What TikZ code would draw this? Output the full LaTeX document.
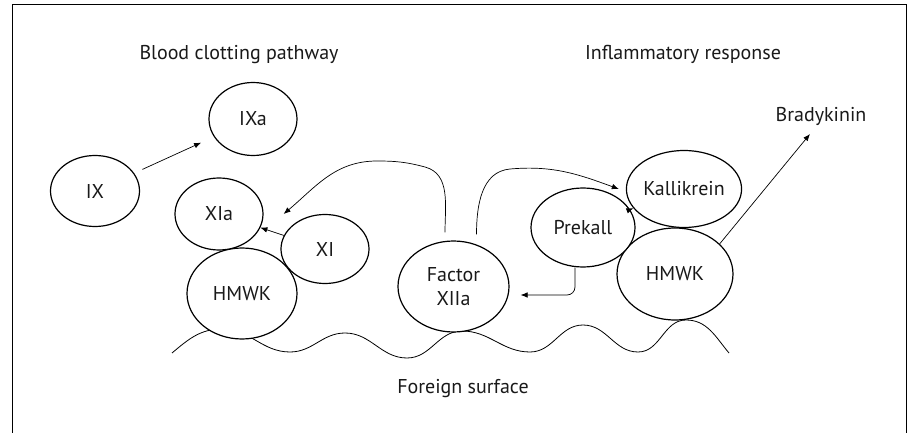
\documentclass[tikz,border=0pt]{standalone}
\usepackage{fontspec}
\setmainfont{PT Sans}
\usetikzlibrary{shapes.geometric,arrows.meta}
\begin{document}
\begin{tikzpicture}[x=1pt,y=-1pt,
        font=\fontsize{20}{23.3}\selectfont,
        blob/.style={ellipse,draw,fill=white,line width=1.2pt,inner sep=0pt,text=black!90},
        txt/.style={anchor=base,inner sep=2pt,text=black!90},
        arr/.style={-{Latex[length=7pt,width=5.5pt]},line width=0.7pt},
        surf/.style={line width=0.8pt}]
    \useasboundingbox (0,0) rectangle (908,433);
    \draw[line width=1pt] (12,433) |- (906,5) -- (906,433);
    \draw[surf] (172,353) to[out=40,in=180] (222,329) to[out=0,in=180] (290,352)
        to[out=0,in=180] (345,333) to[out=0,in=180] (407,358) to[out=0,in=180] (462,331)
        to[out=0,in=180] (530,352) to[out=0,in=180] (583,325) to[out=0,in=180] (638,352)
        to[out=0,in=180] (686,320) to[out=0,in=130] (729,353);
    \node (blood) [txt] at (239,60) {Blood clotting pathway};
    \node (inflam) [txt] at (683,60) {Inflammatory response};
    \node (brady) [txt] at (821,121.7) {Bradykinin};
    \node (surface) [txt] at (463,393.3) {Foreign surface};
    \node (IX) [blob,minimum width=89pt,minimum height=71pt] at (95,191) {IX};
    \node (IXa) [blob,minimum width=88pt,minimum height=73pt] at (253,119) {IXa};
    \node (hl) [blob,minimum width=110pt,minimum height=91pt] at (242,293.5) {HMWK};
    \node (XIa) [blob,minimum width=88pt,minimum height=72pt] at (219,214) {XIa};
    \node (XI) [blob,minimum width=88pt,minimum height=69pt] at (325,249) {XI};
    \node (fx) [blob,minimum width=111pt,minimum height=91pt,align=center] at (453.5,286.5) {Factor\\XIIa};
    \node (hr) [blob,minimum width=116pt,minimum height=92pt] at (675,274) {HMWK};
    \node (kk) [blob,minimum width=108pt,minimum height=77pt] at (684,189) {Kallikrein};
    \node (pk) [blob,minimum width=104pt,minimum height=79pt] at (583,227.5) {Prekall};
    \draw[arr,shorten <=9pt,shorten >=14pt] (IX) -- (IXa);
    \draw[arr] (XI) -- (XIa);
    \draw[arr] ([xshift=-8.5pt,yshift=8pt]fx.north) to[out=90,in=-15] (425,167)
        to[out=165,in=0] (377,161) to[out=180,in=40] ([xshift=20pt]XIa.east);
    \draw[arr] ([xshift=23pt,yshift=6pt]fx.north) to[out=90,in=185] (510,169)
        to[out=5,in=160] ([xshift=-7pt]kk.west);
    \draw[arr] (pk) -- (kk);
    \draw[arr,rounded corners=8pt] ([xshift=-8pt]pk.south) |- ([xshift=11pt,yshift=-8.5pt]fx.east);
    \draw[arr] (hr.34) -- ([xshift=-11pt,yshift=-6pt]brady.south);
\end{tikzpicture}
\end{document}
